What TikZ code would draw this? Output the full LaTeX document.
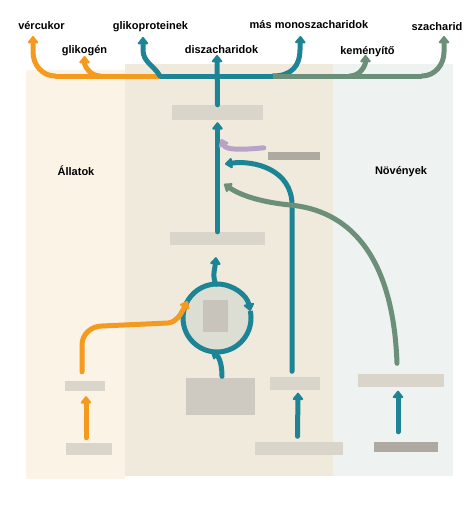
\documentclass[tikz,border=0pt]{standalone}
\usepackage{fontspec}
\setmainfont{Liberation Sans}
\usetikzlibrary{arrows.meta}
\definecolor{orangeflow}{HTML}{F39A1F}
\definecolor{tealflow}{HTML}{1D8496}
\definecolor{greenflow}{HTML}{6B8F78}
\definecolor{lilacflow}{HTML}{B9A2C7}
\definecolor{panelA}{HTML}{FCF3E7}
\definecolor{panelB}{HTML}{F0EADC}
\definecolor{panelC}{HTML}{EEF2F0}
\definecolor{boxgray}{HTML}{D9D5CB}
\definecolor{ringfill}{HTML}{DCDED3}

\begin{document}
\begin{tikzpicture}[x=1pt,y=-1pt,
    flow/.style={line width=5pt,line cap=round,
                 -{Triangle[round,width=12pt,length=8pt]}},
    seg/.style={line width=5pt},
    word/.style={font=\fontsize{11}{13}\selectfont\bfseries,anchor=base,inner sep=0pt},
    hidden/.style={fill=boxgray,inner sep=0pt}]

        \useasboundingbox (0,0) rectangle (474,506);

        % panels
        \fill[panelA] (26,70)  rectangle (125,479);
        \fill[panelB] (125,64) rectangle (333,476);
        \fill[panelC] (333,64) rectangle (453,476);

        % labels
        \node[word] (L01) at (41.5,29)  {vércukor};
        \node[word] (L02) at (84.5,53)  {glikogén};
        \node[word] (L03) at (150.5,29) {glikoproteinek};
        \node[word] (L04) at (221.5,53) {diszacharidok};
        \node[word] (L05) at (309,28)   {más monoszacharidok};
        \node[word] (L06) at (367.5,54) {keményítő};
        \node[word] (L07) at (437,30)   {szacharid};
        \node[word] (L08) at (76,175)   {Állatok};
        \node[word] (L09) at (401,174)  {Növények};

        % hidden labels
        \node[hidden,minimum width=91pt,minimum height=15pt] (B01) at (217.5,112.5) {};
        \node[hidden,fill=boxgray!80!black,minimum width=52pt,minimum height=8pt] (B02) at (294,156) {};
        \node[hidden,minimum width=95pt,minimum height=13pt] (B03) at (217.5,238.5) {};
        \node[hidden,fill=boxgray!95!black,minimum width=69pt,minimum height=37pt] (B05) at (220,396) {};
        \node[hidden,minimum width=50pt,minimum height=13pt] (B06) at (295,383) {};
        \node[hidden,minimum width=88pt,minimum height=13pt] (B07) at (299,448) {};
        \node[hidden,minimum width=86pt,minimum height=13pt] (B08) at (401,380) {};
        \node[hidden,fill=boxgray!80!black,minimum width=64pt,minimum height=10pt] (B09) at (406,447) {};
        \node[hidden,minimum width=40pt,minimum height=10pt] (B10) at (85,386) {};
        \node[hidden,minimum width=46pt,minimum height=12pt] (B11) at (89,449) {};

        % cycle
        \node[circle,fill=ringfill,minimum size=68pt,inner sep=0pt,outer sep=0pt] (C01) at (217,318) {};
        \node[hidden,fill=boxgray!92!black,minimum width=25pt,minimum height=32pt] (B04) at (215,316) {};

        \coordinate (J01) at (160,76);
        \coordinate (J02) at (273,76);
        \coordinate (J03) at (221,139);
        \coordinate (J04) at (225,164);
        \coordinate (J05) at (224,184);

        % top branches
        \draw[seg,tealflow]  (J01) -- (J02);
        \draw[seg,orangeflow] (J01) -- (55,76);
        \draw[flow,orangeflow] (55,76) to[out=180,in=-90] (33,52) -- ([xshift=-8.5pt,yshift=-7pt]L01.base);
        \draw[flow,orangeflow] (100,76) to[out=180,in=-90] ([yshift=-3pt]L02.base);
        \draw[flow,tealflow]   (J01) to[out=120,in=-90] (143,50) -- ([xshift=-7.5pt,yshift=-8pt]L03.base);
        \draw[flow,tealflow]   (J02) .. controls (292,76) and (300,65) .. (300,50) -- ([xshift=-8.5pt,yshift=-8pt]L05.base);
        \draw[seg,greenflow]  (J02) -- (422,76);
        \draw[flow,greenflow]  (350,76) to[out=0,in=-90] ([xshift=-2pt,yshift=-1pt]L06.base);
        \draw[flow,greenflow]  (422,76) to[out=0,in=-90] (444,52) -- ([xshift=7pt,yshift=-6pt]L07.base);

        % trunk
        \draw[flow,tealflow] (B01.north) -- ([xshift=-4.5pt,yshift=-2pt]L04.base);
        \draw[flow,tealflow] (B03.north) -- ([yshift=-2pt]B01.south);
        \draw[flow,lilacflow] ([xshift=-4pt,yshift=4pt]B02.north west) .. controls (240,150) and (226,150) .. (J03);
        \draw[flow,tealflow] ([xshift=-3pt,yshift=5pt]B06.north) -- (292,205) .. controls (292,170) and (255,160) .. (J04);
        \draw[flow,greenflow] ([xshift=-4pt,yshift=10pt]B08.north) .. controls (393,250) and (345,210) .. (290,205)
                              .. controls (260,202) and (240,195) .. (J05);

        % cycle ring
        \draw[flow,tealflow] (C01.90) arc[start angle=90,end angle=12,radius=34pt];
        \draw[seg,tealflow] (C01.12) arc[start angle=12,end angle=-270,radius=34pt];
        \draw[flow,tealflow] (C01.92) .. controls (212,276) and (215,268) .. ([xshift=-1.5pt,yshift=-12pt]B03.south);
        \draw[flow,tealflow] ([xshift=2pt,yshift=1pt]B05.north) .. controls (222,362) and (218,356) .. (C01.-100);
        \draw[flow,orangeflow] ([xshift=-3pt,yshift=9pt]B10.north) -- (82,345) to[out=90,in=180] (102,326) -- (168,323)
                               .. controls (176,322) and (180,316) .. (C01.150);

        % bottom inputs
        \draw[flow,orangeflow] ([xshift=-3pt,yshift=5pt]B11.north) -- ([xshift=1pt,yshift=-5pt]B10.south);
        \draw[flow,tealflow]   ([xshift=-1.5pt,yshift=5pt]B07.north) -- ([xshift=3pt,yshift=-3pt]B06.south);
        \draw[flow,tealflow]   ([xshift=-8pt,yshift=10pt]B09.north) -- ([xshift=-3pt,yshift=-4pt]B08.south);
      \end{tikzpicture}
\end{document}
